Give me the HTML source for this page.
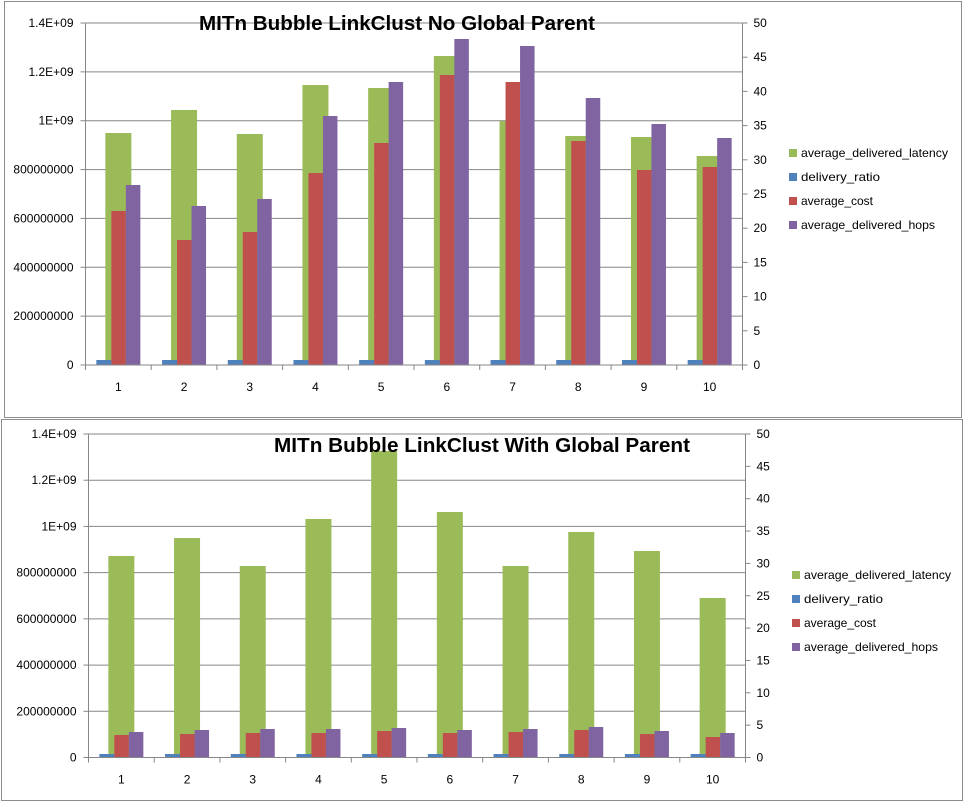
<!DOCTYPE html>
<html><head><meta charset="utf-8">
<style>
html,body{margin:0;padding:0;background:#fff;}
svg{display:block;font-family:"Liberation Sans",sans-serif;}
</style></head>
<body>
<svg id="s" width="965" height="803" viewBox="0 0 965 803" xmlns="http://www.w3.org/2000/svg">
<rect x="0" y="0" width="965" height="803" fill="#fff"/>
<rect x="4.5" y="1.5" width="957" height="416" fill="none" stroke="#8c8c8c" stroke-width="1"/>
<rect x="1.5" y="419.5" width="961" height="381" fill="none" stroke="#8c8c8c" stroke-width="1"/>
<g id="g"></g>
</svg>
<script>
var NS="http://www.w3.org/2000/svg",G=document.getElementById("g");
function el(t,a,txt){var e=document.createElementNS(NS,t);for(var k in a)e.setAttribute(k,a[k]);if(txt!==undefined)e.textContent=txt;G.appendChild(e);return e;}
function chart(c){
 var L=c.L,R=c.R,T=c.T,B=c.B,H=B-T,W=(R-L)/10;
 var lbl=["0","200000000","400000000","600000000","800000000","1E+09","1.2E+09","1.4E+09"];
 for(var i=0;i<8;i++){var y=B-H*i/7;
  if(i>0)el("line",{x1:L,x2:R,y1:y,y2:y,stroke:"#868686","stroke-width":1});
  el("line",{x1:L-5,x2:L,y1:y,y2:y,stroke:"#868686"});
  el("text",{x:L-12,y:y+4,"font-size":12,"text-anchor":"end",fill:"#000"},lbl[i]);}
 for(var i=0;i<=10;i++){var y=B-H*i/10;
  el("line",{x1:R,x2:R+5,y1:y,y2:y,stroke:"#868686"});
  el("text",{x:R+11,y:y+4,"font-size":12,fill:"#000"},String(i*5));}
 for(var i=0;i<10;i++){var cx=L+W*(i+0.5);
  el("rect",{x:cx-13,y:c.g[i],width:26,height:B-c.g[i],fill:"#9BBB59"});
  el("rect",{x:cx-22,y:c.b,width:15,height:B-c.b,fill:"#4F81BD"});
  el("rect",{x:cx-7,y:c.r[i],width:14.5,height:B-c.r[i],fill:"#C0504D"});
  el("rect",{x:cx+7.5,y:c.p[i],width:14.5,height:B-c.p[i],fill:"#8064A2"});
  el("text",{x:cx,y:B+26,"font-size":12,"text-anchor":"middle"},String(i+1));}
 for(var i=0;i<=10;i++){var x=L+W*i;el("line",{x1:x,x2:x,y1:B,y2:B+5,stroke:"#868686"});}
 el("line",{x1:L,x2:L,y1:T,y2:B,stroke:"#868686"});
 el("line",{x1:R,x2:R,y1:T,y2:B,stroke:"#868686"});
 el("line",{x1:L,x2:R,y1:B,y2:B,stroke:"#868686"});
 el("text",{x:c.tx,y:c.ty,"font-size":20,"font-weight":"bold","text-anchor":"middle",textLength:c.tl,lengthAdjust:"spacingAndGlyphs"},c.title);
 var names=["average_delivered_latency","delivery_ratio","average_cost","average_delivered_hops"],cols=["#9BBB59","#4F81BD","#C0504D","#8064A2"],lens=[147,79,72,134];
 for(var i=0;i<4;i++){var y=c.ly+i*24;
  el("rect",{x:c.lx,y:y-7,width:8,height:8,fill:cols[i]});
  el("text",{x:c.lx+12,y:y+1,"font-size":12,textLength:lens[i],lengthAdjust:"spacingAndGlyphs"},names[i]);}
}
chart({L:85.5,R:742.5,T:23,B:365,tx:397,ty:30,tl:396,title:"MITn Bubble LinkClust No Global Parent",
 g:[133,110,134,85,88,56,121,136,137,156],r:[211,240,232,173,143,75,82,141,170,167],p:[185,206,199,116,82,39,46,98,124,138],b:360,lx:789,ly:156});
chart({L:88.5,R:745.5,T:434,B:757.5,tx:482,ty:452,tl:416,title:"MITn Bubble LinkClust With Global Parent",
 g:[556,538,566,519,451,512,566,532,551,598],r:[735,734,733,733,731,733,732,730,734,737],p:[732,730,729,729,728,730,729,727,731,733],b:754,lx:792,ly:578});
</script>
</body></html>
